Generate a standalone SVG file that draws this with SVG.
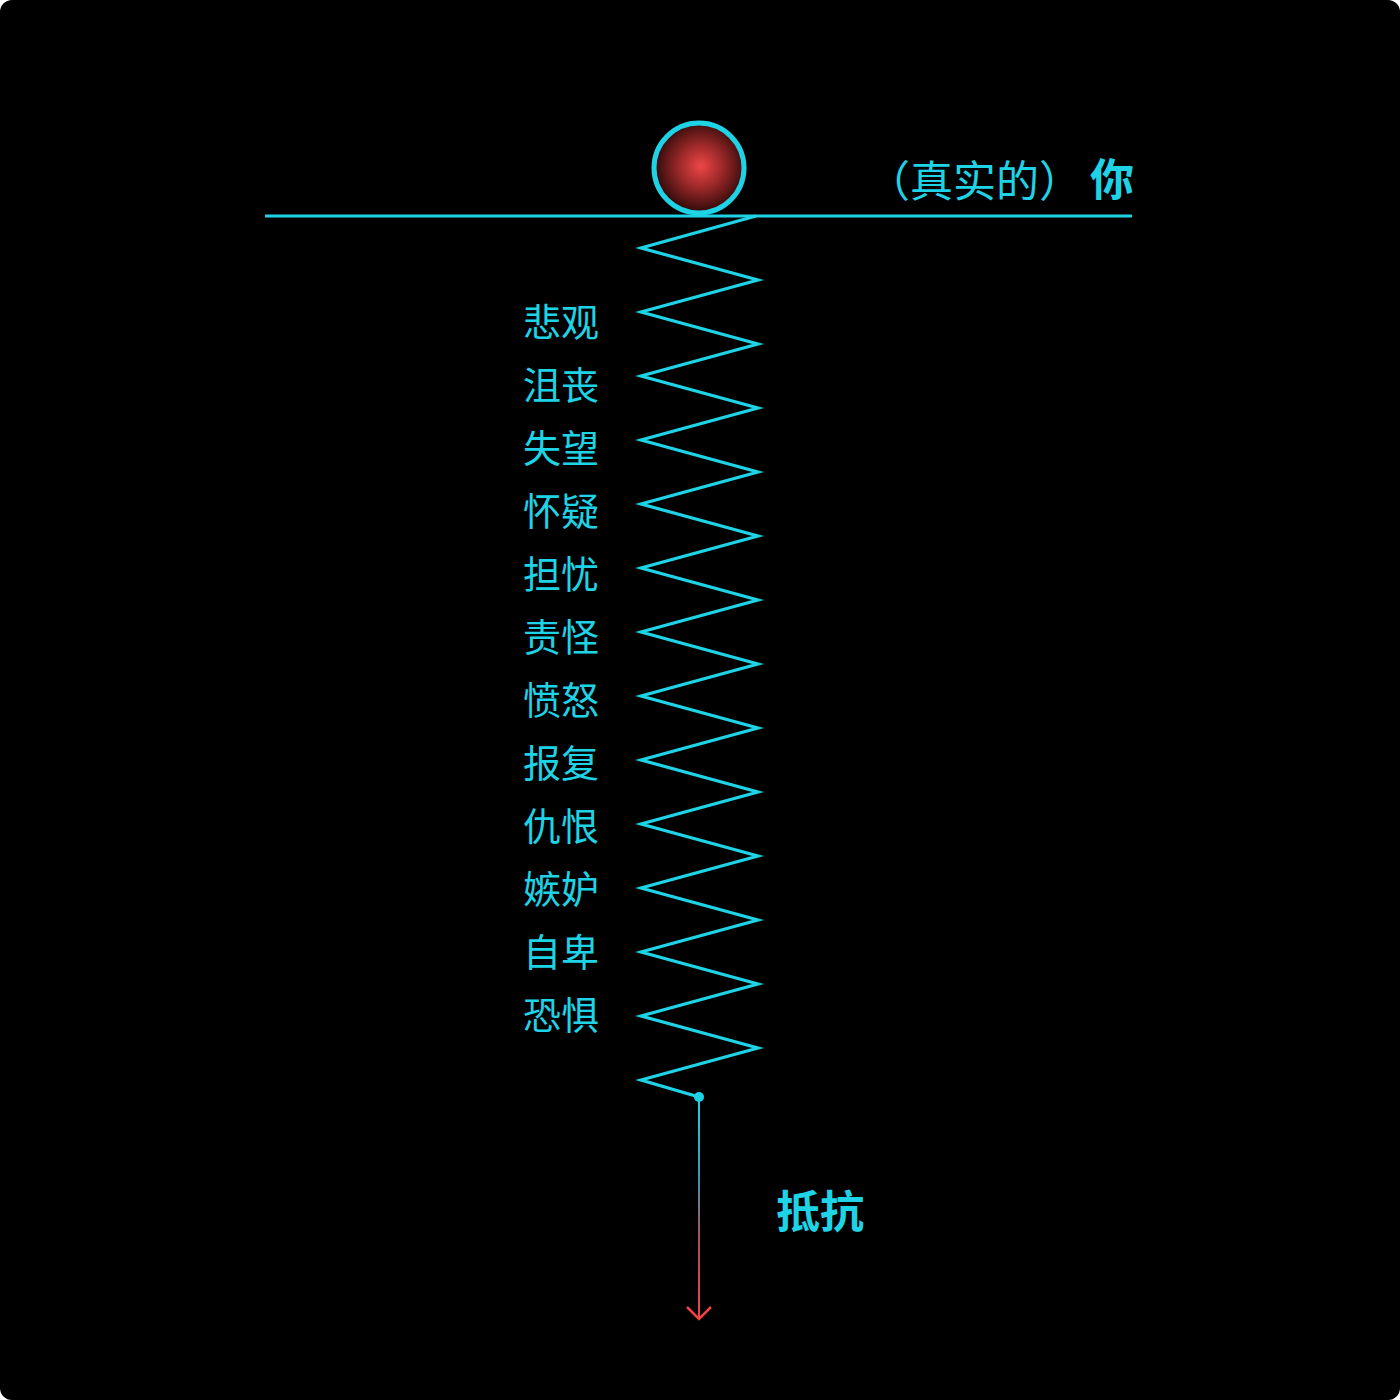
<svg xmlns="http://www.w3.org/2000/svg" width="1400" height="1400" viewBox="0 0 1400 1400">
<defs>
<style>
.lbl{font-family:"Noto Sans CJK SC","Noto Sans",sans-serif;font-size:38px;fill:#1fd3e6}
.you{font-family:"Noto Sans CJK SC","Noto Sans",sans-serif;font-size:43px;fill:#1fd3e6;text-spacing-trim:space-all}
.bold{font-family:"Noto Sans CJK SC","Noto Sans",sans-serif;font-size:44px;font-weight:bold;fill:#1fd3e6}
.cy{stroke:#1fd3e6;fill:none}
</style>
<radialGradient id="ball" cx="0.52" cy="0.48" r="0.55">
<stop offset="0" stop-color="#ee4646"/>
<stop offset="0.45" stop-color="#9a2828"/>
<stop offset="1" stop-color="#220606"/>
</radialGradient>
<linearGradient id="arr" x1="0" y1="1097" x2="0" y2="1320" gradientUnits="userSpaceOnUse">
<stop offset="0" stop-color="#1fd3e6"/>
<stop offset="0.35" stop-color="#3a9ab0"/>
<stop offset="0.65" stop-color="#b04a5a"/>
<stop offset="1" stop-color="#f04444"/>
</linearGradient>
</defs>
<rect x="0" y="0" width="1400" height="1400" fill="#ffffff"/>
<rect x="0" y="0" width="1400" height="1400" rx="12" fill="#000000"/>
<g id="connectors">
<line class="cy" x1="265" y1="216" x2="1132" y2="216" stroke-width="3"/>
<polyline id="spring" class="cy" stroke-width="3.2" stroke-linejoin="miter" points="756,216 641,248 758,280 641,312 758,344 641,376 758,408 641,440 758,472 641,504 758,536 641,568 758,600 641,632 758,664 641,696 758,728 641,760 758,792 641,824 758,856 641,888 758,920 641,952 758,984 641,1016 758,1048 641,1080 699,1097"/>
<circle cx="699" cy="1097" r="5" fill="#1fd3e6"/>
<line x1="699" y1="1097" x2="699" y2="1319" stroke="url(#arr)" stroke-width="2"/>
<polyline points="687,1307 699,1319 711,1307" fill="none" stroke="#f04444" stroke-width="2.5"/>
</g>
<g id="ball-node">
<circle cx="699" cy="168" r="45" fill="url(#ball)" stroke="#1fd3e6" stroke-width="5"/>
</g>
<g id="you-label">
<text class="you" x="867 910 953 996 1039" y="197">（真实的）</text>
<text class="bold" x="1090" y="196">你</text>
</g>
<g id="labels">
<text class="lbl" x="523" y="336">悲观</text>
<text class="lbl" x="523" y="399">沮丧</text>
<text class="lbl" x="523" y="462">失望</text>
<text class="lbl" x="523" y="525">怀疑</text>
<text class="lbl" x="523" y="588">担忧</text>
<text class="lbl" x="523" y="651">责怪</text>
<text class="lbl" x="523" y="714">愤怒</text>
<text class="lbl" x="523" y="777">报复</text>
<text class="lbl" x="523" y="840">仇恨</text>
<text class="lbl" x="523" y="903">嫉妒</text>
<text class="lbl" x="523" y="966">自卑</text>
<text class="lbl" x="523" y="1029">恐惧</text>
</g>
<g id="resist-label">
<text class="bold" x="776" y="1228">抵抗</text>
</g>
</svg>
